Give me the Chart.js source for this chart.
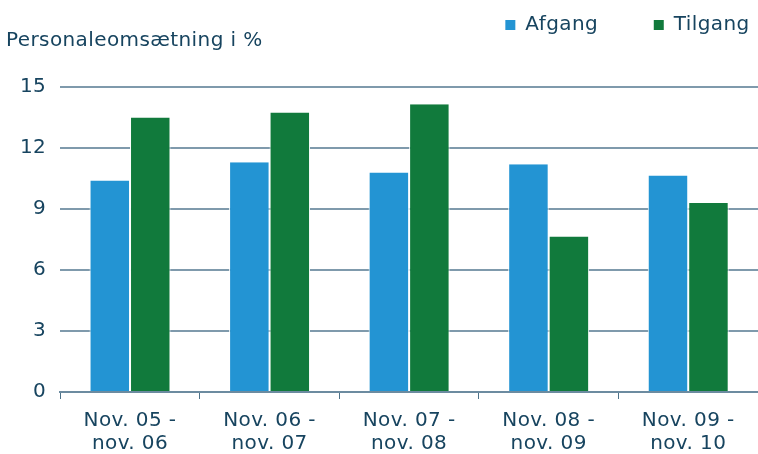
<!DOCTYPE html>
<html>
<head>
<meta charset="utf-8">
<script src="https://cdn.jsdelivr.net/npm/chart.js@4/dist/chart.umd.min.js"></script>
<style>
  html, body { margin: 0; padding: 0; background: #fff; }
  #wrap { width: 758px; height: 454px; }
</style>
</head>
<body>
<div id="wrap"><canvas id="myChart"></canvas></div>
<script>
const periods = [
  ["Nov. 05 -", "nov. 06"],
  ["Nov. 06 -", "nov. 07"],
  ["Nov. 07 -", "nov. 08"],
  ["Nov. 08 -", "nov. 09"],
  ["Nov. 09 -", "nov. 10"]
];
const afgang = [10.4, 11.3, 10.8, 11.2, 10.65];
const tilgang = [13.5, 13.75, 14.15, 7.65, 9.3];
const yTicks = [0, 3, 6, 9, 12, 15];

const textColor = "#17445f";
Chart.defaults.font.family = "'DejaVu Sans', Verdana, sans-serif";
Chart.defaults.font.size = 20;
Chart.defaults.color = textColor;

// verdana-like tracking
const spacing = {
  id: "spacing",
  beforeLayout(chart) { chart.ctx.letterSpacing = "0.4px"; },
  beforeDraw(chart) { chart.ctx.letterSpacing = "0.4px"; },
};

const ctx = document.getElementById("myChart");
const myChart = new Chart(ctx, {
  type: "bar",
  data: {
    labels: periods,
    datasets: [
      {
        label: "Afgang",
        data: afgang,
        backgroundColor: "#2394d3",
        borderColor: "#ffffff",
        borderWidth: { left: 1, right: 1, top: 0, bottom: 0 },
        borderSkipped: "bottom",
      },
      {
        label: "Tilgang",
        data: tilgang,
        backgroundColor: "#117a3c",
        borderColor: "#ffffff",
        borderWidth: { left: 1, right: 1, top: 0, bottom: 0 },
        borderSkipped: "bottom",
      },
    ],
  },
  plugins: [spacing],
  options: {
    responsive: true,
    maintainAspectRatio: false,
    animation: false,
    layout: { padding: { left: 6, right: 0, top: 11, bottom: -11 } },
    plugins: {
      legend: {
        position: "top",
        align: "end",
        weight: 3000,
        labels: {
          boxWidth: 10,
          boxHeight: 10,
          padding: 4,
          color: textColor,
          generateLabels(chart) {
            const items = Chart.defaults.plugins.legend.labels.generateLabels(chart);
            items.forEach((i, n) => {
              i.lineWidth = 0;
              i.strokeStyle = "transparent";
              i.text = i.text + (n < items.length - 1 ? "       \u2009" : "\u2009");
            });
            return items;
          },
        },
      },
      title: {
        display: true,
        text: "Personaleomsætning i %",
        align: "start",
        weight: 500,
        color: textColor,
        font: { size: 20, weight: "normal" },
        padding: { top: -16, bottom: 34 },
      },
      tooltip: { enabled: false },
    },
    datasets: {
      bar: { categoryPercentage: 0.58, barPercentage: 1 },
    },
    scales: {
      x: {
        offset: true,
        grid: {
          display: true,
          drawOnChartArea: false,
          drawTicks: true,
          tickLength: 7,
          color: "#4d7289",
          offset: true,
        },
        border: { display: true, color: "#6c8ba0", width: 2 },
        ticks: { color: textColor, font: { size: 20, lineHeight: 1.15 }, padding: 10, maxRotation: 0 },
      },
      y: {
        min: 0,
        max: 15,
        afterBuildTicks(axis) { axis.ticks = yTicks.map(v => ({ value: v })); },
        grid: { color: "#7f9aac", lineWidth: 2, drawTicks: false },
        border: { display: false },
        ticks: { color: textColor, font: { size: 20 }, padding: 14 },
      },
    },
  },
});
</script>
</body>
</html>
